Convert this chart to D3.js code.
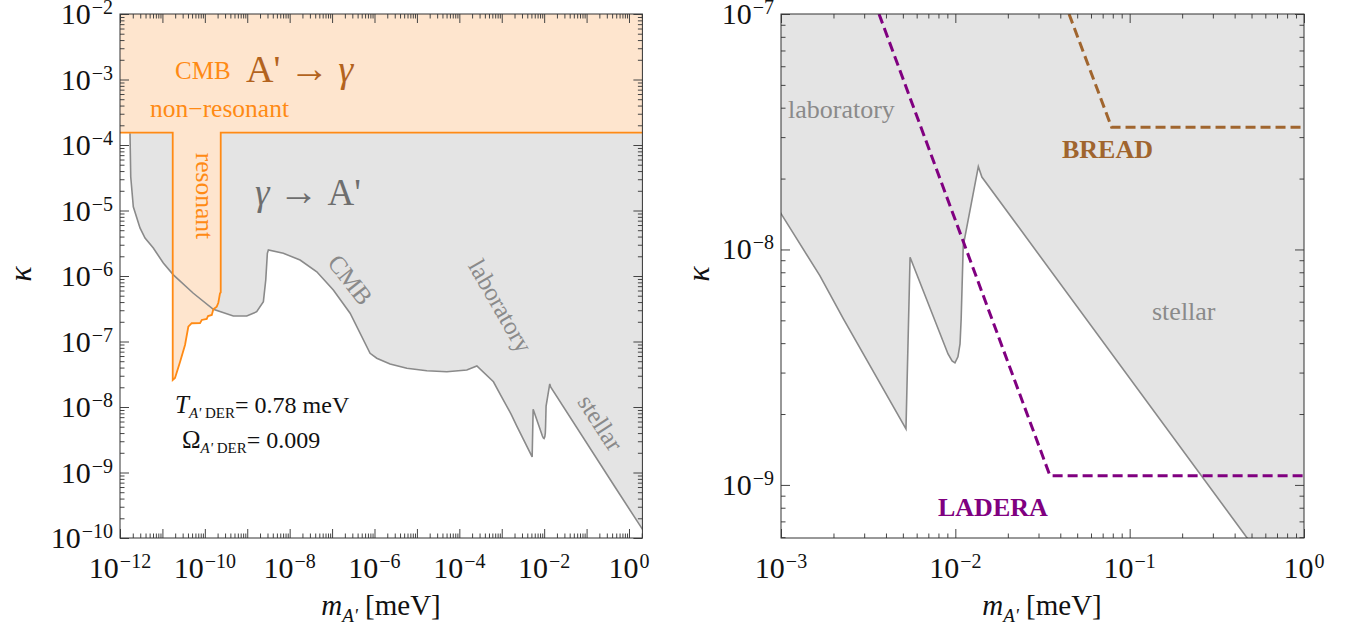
<!DOCTYPE html>
<html><head><meta charset="utf-8">
<script src="https://cdn.jsdelivr.net/npm/d3@7"></script>
<style>
body{margin:0;background:#fff}
svg{display:block}
text{font-family:"Liberation Serif","Times New Roman",serif}
</style>
</head><body>
<svg id="c" width="1357" height="637" font-family="'Liberation Serif', 'Times New Roman', serif"></svg>
<script>
// ---------------- data ----------------
// excluded-region boundary (laboratory / CMB / stellar), mass in meV, kappa
const grayMass = [1.72e-12,1.79e-12,2.06e-12,2.96e-12,3.89e-12,6.1e-12,1.05e-11,1.81e-11,5.36e-11,1.585e-10,4.70e-10,9.72e-10,1.67e-9,2.40e-9,2.73e-9,2.98e-9,3.15e-9,7.10e-9,1.76e-8,4.36e-8,1.07e-7,2.66e-7,7.87e-7,1.13e-6,2.33e-6,5.78e-6,1.71e-5,5.07e-5,1.50e-4,2.59e-4,6.37e-4,1.0e-3,1.67e-3,2.28e-3,5.21e-3,5.50e-3,9.08e-3,9.58e-3,9.95e-3,1.035e-2,1.064e-2,1.08e-2,1.11e-2,1.355e-2,1.42e-2,0.472,3];
const grayKappa = [1.51e-4,3.28e-5,1.14e-5,5.41e-6,3.80e-6,2.67e-6,1.58e-6,1.04e-6,5.45e-7,3.10e-7,2.45e-7,2.45e-7,2.85e-7,4.06e-7,8.69e-7,2.22e-6,2.49e-6,2.22e-6,1.75e-6,1.16e-6,6.11e-7,2.70e-7,6.61e-8,5.55e-8,4.53e-8,3.90e-8,3.58e-8,3.46e-8,3.67e-8,4.23e-8,2.43e-8,1.42e-8,7.74e-9,5.07e-9,1.73e-9,9.27e-9,3.60e-9,3.36e-9,3.30e-9,3.50e-9,3.97e-9,5.07e-9,1.035e-8,2.25e-8,2.03e-8,5.95e-10,9.4e-11];
// CMB A' -> gamma (non-resonant + resonant) boundary
const orangeMass = [1e-13,1.75e-11,1.75e-11,1.98e-11,2.60e-11,3.41e-11,4.08e-11,4.91e-11,7.71e-11,8.45e-11,1.11e-10,1.19e-10,1.46e-10,1.585e-10,1.91e-10,2.08e-10,2.28e-10,2.37e-10,2.37e-10,3];
const orangeKappa = [1.54e-4,1.54e-4,2.58e-8,2.77e-8,4.86e-8,8.85e-8,1.68e-7,1.90e-7,1.91e-7,2.13e-7,2.21e-7,2.45e-7,2.54e-7,3.10e-7,3.40e-7,3.91e-7,5.45e-7,5.6e-7,1.54e-4,1.54e-4];
// projected sensitivities (right panel)
const laderaMass = [3.65e-3,3.49e-2,1];
const laderaKappa = [1e-7,1.094e-9,1.094e-9];
const breadMass = [4.49e-2,7.88e-2,1];
const breadKappa = [1e-7,3.30e-8,3.30e-8];
// axes (decade exponents)
const leftXDecades = [-12,-11,-10,-9,-8,-7,-6,-5,-4,-3,-2,-1,0];
const leftXLabels = [-12,-10,-8,-6,-4,-2,0];
const leftYDecades = [-2,-3,-4,-5,-6,-7,-8,-9,-10];
const rightXDecades = [-3,-2,-1,0];
const rightYDecades = [-7,-8,-9];

// ---------------- drawing ----------------
const svg = d3.select('#c');
const SERIF = "'Liberation Serif', 'Times New Roman', serif";
const FILL_GRAY = '#e4e4e4', LINE_GRAY = '#8a8a8a';
const ORANGE = '#ff8a14', ORANGE_FILL = '#fee5ce';

function panel(o){
  const x = d3.scaleLog().domain(o.xDomain).range([o.x0,o.x1]);
  const y = d3.scaleLog().domain(o.yDomain).range([o.y1,o.y0]);
  svg.append('clipPath').attr('id',o.id).append('rect')
    .attr('x',o.x0).attr('y',o.y0).attr('width',o.x1-o.x0).attr('height',o.y1-o.y0);
  const g = svg.append('g').attr('font-family',SERIF);
  const plot = g.append('g').attr('clip-path',`url(#${o.id})`);
  return {x,y,g,plot,o};
}
function pts(ms,ks){ return ms.map((m,i)=>[m,ks[i]]); }
function minors(decades, domain){
  const out=[]; const lo=Math.min(...decades)-1, hi=Math.max(...decades);
  for(let e=lo;e<=hi;e++) for(let k=2;k<=9;k++){ const v=k*Math.pow(10,e); if(v>=domain[0]*0.999 && v<=domain[1]*1.001) out.push(v);} 
  return out;
}
function tickSet(P, decades, axisName, domain){
  const {x,y,g,o}=P;
  const major = decades.map(e=>Math.pow(10,e)).filter(v=>v>=domain[0]*0.999&&v<=domain[1]*1.001);
  const minor = minors(decades, domain);
  const defs = axisName==='x'
    ? [[d3.axisBottom(x),`translate(0,${o.y1})`],[d3.axisTop(x),`translate(0,${o.y0})`]]
    : [[d3.axisLeft(y),`translate(${o.x0},0)`],[d3.axisRight(y),`translate(${o.x1},0)`]];
  defs.forEach(([ax,tr])=>{
    [[major,9],[minor,4.5]].forEach(([vals,len])=>{
      const a = ax.tickValues(vals).tickSize(-len).tickFormat('');
      const gg = g.append('g').attr('transform',tr).call(a);
      gg.select('.domain').remove();
      gg.selectAll('line').attr('stroke','#444').attr('stroke-width',1);
    });
  });
}
function powLabel(g,x,y,exp,anchor){
  const t=g.append('text').attr('x',x).attr('y',y).attr('text-anchor',anchor)
    .attr('font-family',SERIF).attr('font-size',30).attr('fill','#111');
  t.append('tspan').text('10');
  t.append('tspan').attr('font-size',20).attr('dy',-10).attr('dx',1)
    .text(exp<0?'\u2212'+(-exp):String(exp));
}
function frame(P){
  const o=P.o;
  P.g.append('rect').attr('x',o.x0).attr('y',o.y0).attr('width',o.x1-o.x0).attr('height',o.y1-o.y0)
    .attr('fill','none').attr('stroke','#333').attr('stroke-width',1);
}
function xTitle(g,cx){
  const t=g.append('text').attr('x',cx).attr('y',615).attr('text-anchor','middle').attr('font-size',29).attr('fill','#111');
  t.append('tspan').attr('font-style','italic').text('m');
  t.append('tspan').attr('font-style','italic').attr('font-size',19).attr('dy',7).text("A'");
  t.append('tspan').attr('dy',-7).text(' [meV]');
}
function yTitle(g,x,y){
  g.append('text').attr('transform',`translate(${x},${y}) rotate(-90)`).attr('text-anchor','middle')
    .attr('font-size',32).attr('font-style','italic').attr('fill','#111').text('\u03ba');
}
// wide arrow with spacing, as in the reference typesetting
function arrow(t,size,gap){
  t.append('tspan').attr('dx',gap).attr('font-size',size).text('\u2192');
}

const grayPts = pts(grayMass, grayKappa);
const grayPoly = grayPts.concat([[3,1],[grayMass[0],1]]);

// ---------- left panel ----------
const PL = panel({id:'clipL',x0:120,x1:642.4,y0:14,y1:538,xDomain:[1e-12,2.07],yDomain:[1e-10,1e-2]});
{
  const {x,y,plot,g}=PL;
  const line=d3.line().x(d=>x(d[0])).y(d=>y(d[1]));
  plot.append('path').attr('d',line(grayPoly)+'Z').attr('fill',FILL_GRAY);
  const oPts=pts(orangeMass,orangeKappa);
  plot.append('path').attr('d',line(oPts.concat([[3,1],[1e-13,1]]))+'Z').attr('fill',ORANGE_FILL);
  plot.append('path').attr('d',line(grayPts)).attr('fill','none').attr('stroke',LINE_GRAY).attr('stroke-width',1.6);
  plot.append('path').attr('d',line(oPts)).attr('fill','none').attr('stroke',ORANGE).attr('stroke-width',1.8);
  tickSet(PL,leftXDecades,'x',x.domain());
  tickSet(PL,leftYDecades,'y',y.domain());
  frame(PL);
  leftXLabels.forEach(e=>powLabel(g,x(Math.pow(10,e)),578,e,'middle'));
  leftYDecades.forEach(e=>powLabel(g,113,y(Math.pow(10,e))+10,e,'end'));
  xTitle(g,381); yTitle(g,31,274);
  // annotations
  g.append('text').attr('x',175).attr('y',79).attr('font-size',25).attr('fill',ORANGE).text('CMB');
  const ag=g.append('text').attr('x',246).attr('y',82).attr('font-size',38).attr('fill','#b3631e');
  ag.append('tspan').text("A'"); arrow(ag,40,9);
  ag.append('tspan').attr('dx',9).attr('font-size',38).attr('font-style','italic').text('\u03b3');
  g.append('text').attr('x',150).attr('y',117).attr('font-size',25.5).attr('fill',ORANGE).text('non\u2212resonant');
  g.append('text').attr('transform','translate(196,196) rotate(90)').attr('text-anchor','middle')
    .attr('font-size',25.5).attr('fill',ORANGE).text('resonant');
  const ga=g.append('text').attr('x',255).attr('y',205).attr('font-size',37).attr('fill','#6e6e6e');
  ga.append('tspan').attr('font-style','italic').text('\u03b3'); arrow(ga,40,9);
  ga.append('tspan').attr('dx',9).attr('font-size',37).text("A'");
  [['CMB',350,280,52],['laboratory',500,306,60],['stellar',600,423,57]].forEach(([s,cx,cy,a])=>{
    g.append('text').attr('transform',`translate(${cx},${cy}) rotate(${a})`).attr('text-anchor','middle')
      .attr('dy','0.32em').attr('font-size',25).attr('fill',LINE_GRAY).text(s);
  });
  const t1=g.append('text').attr('x',175).attr('y',413).attr('font-size',24).attr('fill','#111');
  t1.append('tspan').attr('font-style','italic').attr('font-size',25).text('T');
  t1.append('tspan').attr('font-style','italic').attr('font-size',15).attr('dy',5).text("A'");
  t1.append('tspan').attr('font-size',15).text(' DER');
  t1.append('tspan').attr('dy',-5).text('= 0.78 meV');
  const t2=g.append('text').attr('x',182).attr('y',448).attr('font-size',24).attr('fill','#111');
  t2.append('tspan').attr('font-size',25).text('\u03a9');
  t2.append('tspan').attr('font-style','italic').attr('font-size',15).attr('dy',5).text("A'");
  t2.append('tspan').attr('font-size',15).text(' DER');
  t2.append('tspan').attr('dy',-5).text('= 0.009');
}

// ---------- right panel ----------
const PR = panel({id:'clipR',x0:781,x1:1304,y0:14,y1:538,xDomain:[1e-3,1],yDomain:[5.95e-10,1e-7]});
{
  const {x,y,plot,g}=PR;
  const line=d3.line().x(d=>x(d[0])).y(d=>y(d[1]));
  plot.append('path').attr('d',line(grayPoly)+'Z').attr('fill',FILL_GRAY);
  plot.append('path').attr('d',line(grayPts)).attr('fill','none').attr('stroke',LINE_GRAY).attr('stroke-width',1.6);
  plot.append('path').attr('d',line(pts(laderaMass,laderaKappa))).attr('fill','none')
    .attr('stroke','#800080').attr('stroke-width',3).attr('stroke-dasharray','10,5');
  plot.append('path').attr('d',line(pts(breadMass,breadKappa))).attr('fill','none')
    .attr('stroke','#a0652e').attr('stroke-width',3).attr('stroke-dasharray','10,5');
  tickSet(PR,rightXDecades,'x',x.domain());
  tickSet(PR,rightYDecades,'y',y.domain());
  frame(PR);
  rightXDecades.forEach(e=>powLabel(g,x(Math.pow(10,e)),578,e,'middle'));
  rightYDecades.forEach(e=>powLabel(g,774,y(Math.pow(10,e))+10,e,'end'));
  xTitle(g,1042); yTitle(g,709,274);
  g.append('text').attr('x',788).attr('y',118).attr('font-size',26).attr('fill',LINE_GRAY).text('laboratory');
  g.append('text').attr('x',1152).attr('y',320).attr('font-size',26).attr('fill',LINE_GRAY).text('stellar');
  g.append('text').attr('x',1062).attr('y',158).attr('font-size',26).attr('font-weight','bold').attr('fill','#a0652e').text('BREAD');
  g.append('text').attr('x',938).attr('y',516).attr('font-size',26).attr('font-weight','bold').attr('fill','#800080').text('LADERA');
}
</script>
</body></html>
